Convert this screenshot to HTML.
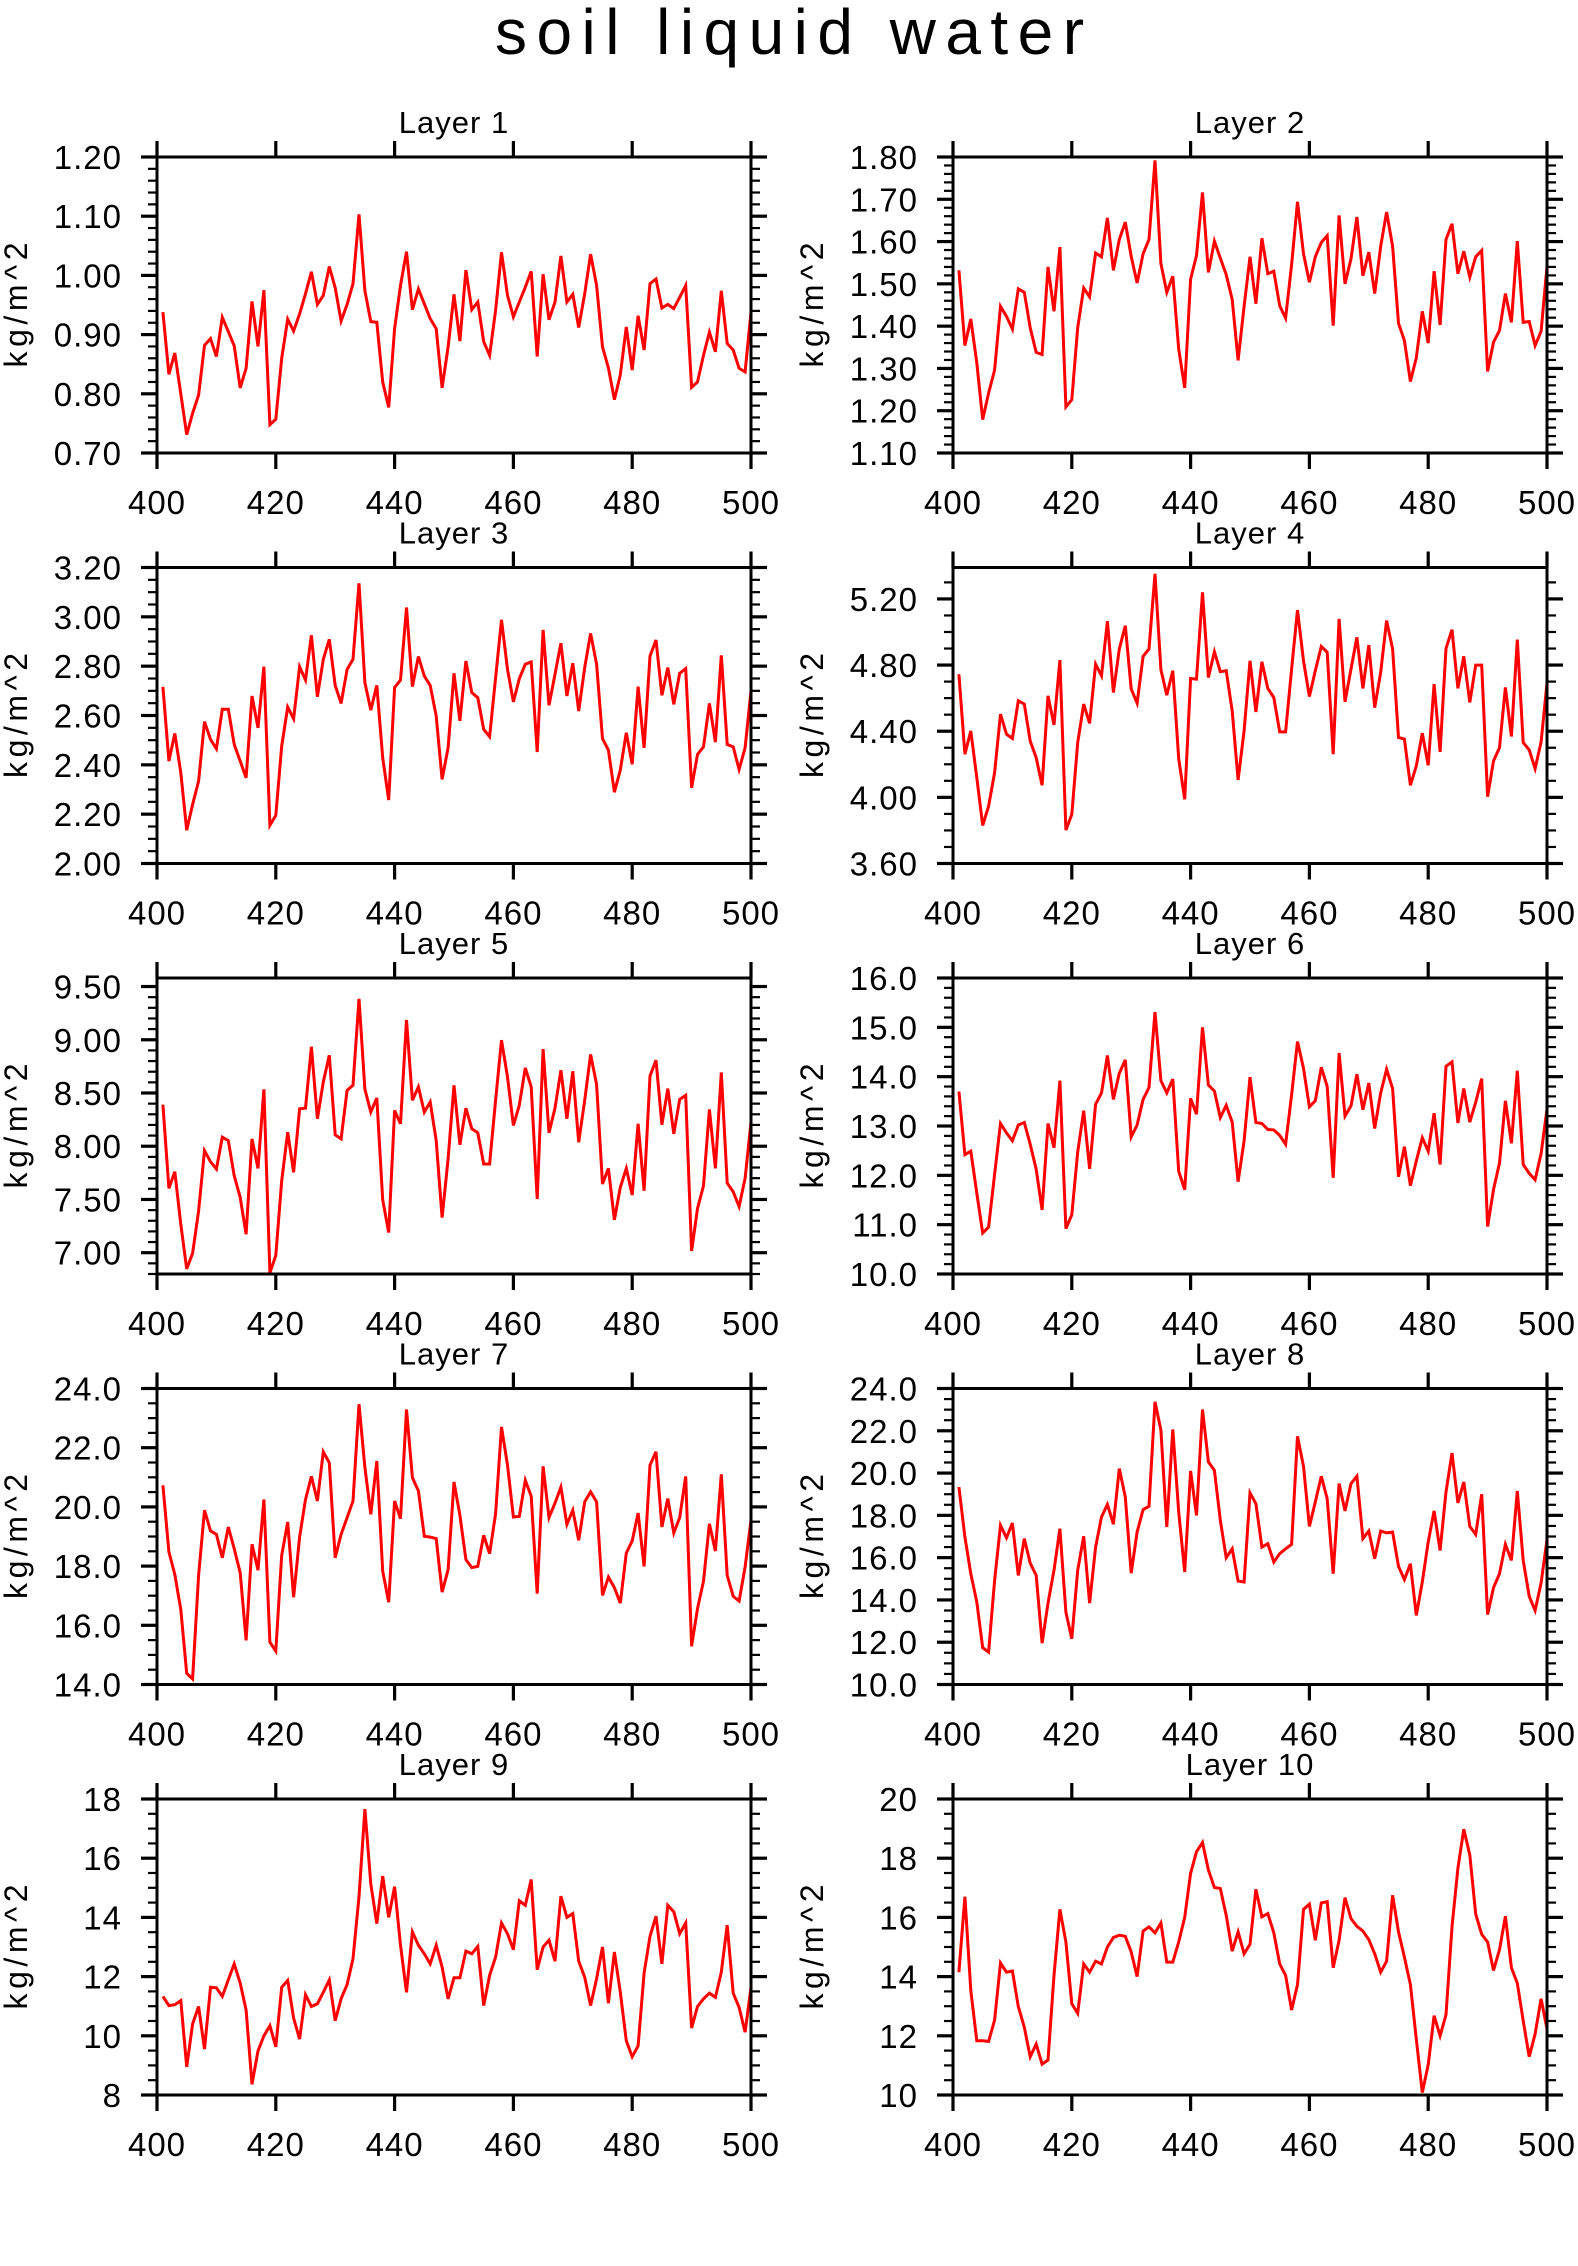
<!DOCTYPE html>
<html>
<head>
<meta charset="utf-8">
<style>
html,body{margin:0;padding:0;background:#fff;}
svg{display:block;}
text{font-family:"Liberation Sans",sans-serif;fill:#000;}
</style>
</head>
<body>
<svg id="chart" width="1578" height="2266" viewBox="0 0 1578 2266" xmlns="http://www.w3.org/2000/svg">
<rect x="0" y="0" width="1578" height="2266" fill="#fff"/>
<text x="495" y="54" font-size="64" textLength="589" lengthAdjust="spacing">soil  liquid  water</text>
<text x="757" y="2292" font-size="36" text-anchor="middle">Year 01</text>
<g id="panels"></g>
</svg>
<script>
const years = [];
for (let y = 401; y <= 500; y++) years.push(y);
const xTicks = [400, 420, 440, 460, 480, 500];
const layerTitles = ["Layer  1","Layer  2","Layer  3","Layer  4","Layer  5","Layer  6","Layer  7","Layer  8","Layer  9","Layer  10"];
const yMins = [0.70, 1.10, 2.00, 3.60, 6.80, 10, 14, 10, 8, 10];
const yMaxs = [1.20, 1.80, 3.20, 5.39, 9.58, 16, 24, 24, 18, 20];
const yMajor = [0.1, 0.1, 0.2, 0.4, 0.5, 1, 2, 2, 2, 2];
const yMinor = [0.02, 0.02, 0.05, 0.1, 0.1, 0.2, 0.5, 0.5, 0.5, 0.5];
const yDecimals = [2, 2, 2, 2, 2, 1, 1, 1, 0, 0];
const yFirstMajor = [0.70, 1.10, 2.00, 3.60, 7.00, 10, 14, 10, 8, 10];

const layer1 = [0.938,0.833,0.869,0.800,0.731,0.767,0.798,0.882,0.893,0.863,0.929,0.905,0.881,0.810,0.843,0.956,0.880,0.975,0.748,0.757,0.860,0.926,0.906,0.935,0.969,1.006,0.951,0.966,1.015,0.979,0.923,0.951,0.986,1.103,0.974,0.922,0.921,0.820,0.777,0.910,0.983,1.040,0.942,0.977,0.952,0.927,0.910,0.810,0.879,0.968,0.889,1.009,0.942,0.955,0.888,0.865,0.941,1.039,0.966,0.930,0.955,0.980,1.007,0.863,1.002,0.925,0.955,1.033,0.955,0.968,0.912,0.969,1.036,0.983,0.879,0.844,0.790,0.832,0.913,0.840,0.932,0.874,0.986,0.994,0.945,0.951,0.944,0.963,0.983,0.811,0.820,0.865,0.904,0.871,0.974,0.885,0.874,0.843,0.837,0.938];
const layer2 = [1.532,1.354,1.417,1.313,1.179,1.242,1.296,1.447,1.423,1.393,1.488,1.480,1.396,1.338,1.333,1.540,1.435,1.587,1.209,1.226,1.396,1.490,1.469,1.573,1.564,1.656,1.532,1.605,1.646,1.565,1.502,1.571,1.605,1.792,1.548,1.480,1.518,1.346,1.254,1.511,1.567,1.716,1.527,1.601,1.561,1.522,1.463,1.319,1.447,1.564,1.453,1.608,1.524,1.530,1.448,1.419,1.545,1.694,1.571,1.504,1.564,1.598,1.614,1.401,1.662,1.500,1.559,1.658,1.519,1.575,1.477,1.589,1.670,1.589,1.407,1.366,1.269,1.325,1.435,1.360,1.530,1.403,1.605,1.642,1.524,1.577,1.516,1.564,1.579,1.293,1.362,1.390,1.477,1.409,1.601,1.409,1.411,1.354,1.388,1.541];
const layer3 = [2.716,2.415,2.527,2.368,2.135,2.239,2.334,2.575,2.503,2.465,2.625,2.625,2.483,2.415,2.347,2.679,2.550,2.798,2.155,2.195,2.476,2.634,2.587,2.798,2.744,2.925,2.676,2.828,2.909,2.722,2.649,2.787,2.828,3.136,2.733,2.622,2.722,2.429,2.257,2.713,2.744,3.038,2.717,2.839,2.760,2.722,2.598,2.341,2.469,2.771,2.578,2.821,2.693,2.672,2.544,2.514,2.753,2.988,2.787,2.655,2.749,2.808,2.817,2.452,2.947,2.641,2.767,2.893,2.679,2.812,2.618,2.794,2.933,2.808,2.506,2.460,2.289,2.379,2.530,2.402,2.717,2.469,2.841,2.906,2.682,2.794,2.645,2.771,2.790,2.307,2.442,2.473,2.649,2.492,2.844,2.483,2.473,2.381,2.469,2.699];
const layer4 = [4.745,4.261,4.402,4.119,3.830,3.947,4.149,4.503,4.382,4.356,4.584,4.564,4.341,4.240,4.073,4.614,4.438,4.830,3.802,3.897,4.331,4.564,4.448,4.806,4.735,5.065,4.634,4.897,5.038,4.655,4.570,4.853,4.897,5.352,4.772,4.618,4.766,4.234,3.988,4.719,4.715,5.240,4.725,4.881,4.760,4.766,4.523,4.105,4.402,4.826,4.517,4.820,4.659,4.604,4.396,4.396,4.776,5.133,4.826,4.610,4.766,4.913,4.877,4.261,5.079,4.578,4.776,4.968,4.659,4.921,4.543,4.756,5.069,4.897,4.362,4.352,4.073,4.190,4.388,4.194,4.685,4.275,4.901,5.014,4.659,4.853,4.574,4.800,4.800,4.004,4.220,4.301,4.665,4.368,4.954,4.331,4.287,4.174,4.335,4.691];
const layer5 = [8.390,7.604,7.761,7.267,6.849,6.994,7.393,7.959,7.855,7.786,8.085,8.053,7.723,7.519,7.173,8.069,7.792,8.535,6.811,6.975,7.676,8.132,7.755,8.352,8.358,8.934,8.258,8.604,8.855,8.107,8.069,8.525,8.572,9.384,8.535,8.321,8.453,7.497,7.189,8.336,8.211,9.186,8.431,8.557,8.321,8.415,8.053,7.330,7.881,8.572,8.013,8.358,8.164,8.126,7.833,7.833,8.431,8.997,8.651,8.195,8.384,8.736,8.557,7.503,8.912,8.126,8.358,8.714,8.258,8.704,8.038,8.431,8.862,8.579,7.645,7.792,7.308,7.613,7.792,7.541,8.211,7.582,8.660,8.808,8.201,8.541,8.116,8.440,8.478,7.016,7.415,7.629,8.346,7.792,8.692,7.654,7.572,7.434,7.698,8.226];
const layer6 = [13.70,12.42,12.49,11.64,10.83,10.95,12.02,13.05,12.86,12.70,13.02,13.07,12.63,12.12,11.30,13.05,12.56,13.92,10.92,11.20,12.47,13.31,12.13,13.44,13.67,14.43,13.54,14.07,14.34,12.78,13.02,13.54,13.78,15.31,13.92,13.67,13.95,12.08,11.71,13.56,13.24,15.00,13.83,13.71,13.17,13.42,13.08,11.87,12.70,13.99,13.07,13.05,12.93,12.92,12.81,12.63,13.63,14.71,14.17,13.39,13.51,14.19,13.80,11.95,14.48,13.20,13.41,14.05,13.33,13.87,12.95,13.67,14.15,13.76,11.97,12.58,11.79,12.29,12.76,12.49,13.26,12.22,14.21,14.30,13.06,13.76,13.08,13.48,13.96,10.96,11.71,12.25,13.51,12.65,14.12,12.22,12.04,11.91,12.44,13.34];
const layer7 = [20.73,18.48,17.72,16.53,14.38,14.19,17.69,19.89,19.19,19.07,18.28,19.32,18.59,17.77,15.49,18.74,17.86,20.25,15.43,15.13,18.36,19.49,16.95,18.98,20.25,21.03,20.20,21.86,21.49,18.28,19.07,19.64,20.20,23.47,21.33,19.75,21.55,17.83,16.78,20.20,19.60,23.29,20.99,20.54,19.01,18.98,18.93,17.12,17.88,20.84,19.72,18.22,17.95,17.99,19.04,18.42,19.77,22.70,21.41,19.66,19.68,20.90,20.36,17.07,21.37,19.64,20.13,20.67,19.41,19.89,18.87,20.17,20.51,20.17,17.01,17.63,17.27,16.75,18.44,18.85,19.79,17.99,21.41,21.86,19.32,20.28,19.12,19.64,21.03,15.29,16.56,17.49,19.43,18.51,21.10,17.69,16.98,16.82,17.97,19.55];
const layer8 = [19.34,16.98,15.24,13.90,11.74,11.53,14.92,17.53,16.94,17.64,15.16,16.90,15.74,15.16,11.96,13.85,15.40,17.37,13.42,12.16,15.40,17.01,13.85,16.50,17.92,18.52,17.58,20.21,18.87,15.27,17.21,18.27,18.43,23.37,22.03,17.45,22.06,18.16,15.32,20.10,18.00,23.00,20.53,20.13,17.77,16.00,16.42,14.89,14.85,19.06,18.55,16.50,16.66,15.79,16.19,16.42,16.63,21.74,20.32,17.48,18.63,19.85,18.79,15.24,19.50,18.21,19.50,19.85,16.90,17.26,15.95,17.26,17.17,17.21,15.59,14.96,15.71,13.27,14.85,16.74,18.21,16.34,19.11,20.95,18.59,19.58,17.48,17.10,19.00,13.31,14.58,15.24,16.63,15.87,19.15,15.87,14.17,13.50,14.80,16.85];
const layer9 = [11.33,11.02,11.05,11.19,8.95,10.40,10.99,9.55,11.64,11.62,11.33,11.89,12.43,11.78,10.87,8.36,9.49,10.00,10.34,9.63,11.64,11.87,10.60,9.89,11.39,10.99,11.08,11.47,11.89,10.51,11.25,11.73,12.60,14.70,17.66,15.13,13.79,15.40,14.00,15.04,13.06,11.47,13.51,13.06,12.77,12.43,13.06,12.32,11.25,11.96,11.96,12.86,12.77,13.02,11.02,12.04,12.66,13.81,13.45,12.91,14.56,14.41,15.28,12.23,13.00,13.23,12.52,14.72,14.00,14.13,12.52,11.98,11.02,11.93,13.00,11.10,12.83,11.47,9.83,9.29,9.66,12.12,13.36,14.04,12.43,14.41,14.19,13.45,13.81,10.26,10.99,11.25,11.44,11.30,12.15,13.74,11.44,10.96,10.12,11.64];
const layer10 = [14.15,16.70,13.53,11.83,11.83,11.81,12.53,14.46,14.15,14.19,12.99,12.29,11.29,11.72,11.04,11.18,14.04,16.27,15.17,13.08,12.76,14.43,14.15,14.52,14.43,15.00,15.32,15.40,15.36,14.83,14.00,15.54,15.68,15.48,15.81,14.49,14.49,15.17,16.00,17.49,18.22,18.53,17.60,17.01,16.98,16.07,14.86,15.51,14.77,15.09,16.95,16.02,16.13,15.48,14.43,14.04,12.87,13.73,16.27,16.45,15.23,16.49,16.53,14.30,15.23,16.67,15.96,15.70,15.54,15.25,14.77,14.15,14.52,16.75,15.51,14.66,13.73,11.89,10.08,11.02,12.68,12.00,12.71,15.68,17.66,18.98,18.11,16.11,15.43,15.17,14.21,14.91,16.04,14.30,13.78,12.51,11.29,12.06,13.25,12.23];
const allLayers = [layer1, layer2, layer3, layer4, layer5, layer6, layer7, layer8, layer9, layer10];

const NS = "http://www.w3.org/2000/svg";
const root = document.getElementById("panels");
function mk(tag, attrs, parent) {
  const el = document.createElementNS(NS, tag);
  for (const k in attrs) el.setAttribute(k, attrs[k]);
  parent.appendChild(el);
  return el;
}
const colLeft = [157, 953];
const plotW = 594, plotH = 296;
for (let p = 0; p < 10; p++) {
  const col = p % 2, row = Math.floor(p / 2);
  const L = colLeft[col], T = 157 + 410.5 * row, R = L + plotW, B = T + plotH;
  const lo = yMins[p], hi = yMaxs[p];
  const xs = v => L + (v - 400) / 100 * plotW;
  const ys = v => B - (v - lo) / (hi - lo) * plotH;
  const g = mk("g", {}, root);
  
  

  const title = mk("text", {x: (L + R) / 2, y: T - 24, "font-size": 31, "text-anchor": "middle", "letter-spacing": 1}, g);
  
  
  title.textContent = layerTitles[p];

  const minorStart = Math.ceil(lo / yMinor[p] - 1e-6) * yMinor[p];
  for (let v = minorStart; v <= hi + 1e-9; v += yMinor[p]) {
    const yy = ys(v);
    const t1 = mk("line", {x1: L - 9, x2: L, y1: yy, y2: yy, stroke: "#000", "stroke-width": 2.2}, g);
    
    
    const t2 = mk("line", {x1: R, x2: R + 9, y1: yy, y2: yy, stroke: "#000", "stroke-width": 2.2}, g);
    
    
  }
  for (let v = yFirstMajor[p]; v <= hi + 1e-9; v += yMajor[p]) {
    const yy = ys(v);
    const t1 = mk("line", {x1: L - 16, x2: L, y1: yy, y2: yy, stroke: "#000", "stroke-width": 3.2}, g);
    
    
    const t2 = mk("line", {x1: R, x2: R + 16, y1: yy, y2: yy, stroke: "#000", "stroke-width": 3.2}, g);
    
    
    const lab = mk("text", {x: L - 35, y: yy + 12, "font-size": 33, "text-anchor": "end", "letter-spacing": 1}, g);
    
    
    lab.textContent = v.toFixed(yDecimals[p]);
  }
  xTicks.forEach(v => {
    const xx = xs(v);
    const a = mk("line", {x1: xx, x2: xx, y1: T - 16, y2: T, stroke: "#000", "stroke-width": 3.2}, g);
    
    
    const b = mk("line", {x1: xx, x2: xx, y1: B, y2: B + 16, stroke: "#000", "stroke-width": 3.2}, g);
    
    
    const lab = mk("text", {x: xx, y: B + 61, "font-size": 33, "text-anchor": "middle", "letter-spacing": 1}, g);
    
    
    lab.textContent = v;
  });
  const cy = (T + B) / 2, tx = L - 130;
  const yt = mk("text", {x: tx, y: cy, "font-size": 32, "text-anchor": "middle", transform: "rotate(-90 " + tx + " " + cy + ")", textLength: 125, lengthAdjust: "spacing"}, g);
  
  
  yt.textContent = "kg/m^2";
  const data = allLayers[p];
  const pts = data.map((v, i) => xs(years[i]).toFixed(1) + "," + ys(v).toFixed(1)).join(" ");
  const line = mk("polyline", {points: pts, fill: "none", stroke: "#ff0000", "stroke-width": 3, "stroke-linejoin": "miter"}, g);
  
  
  const fr = mk("rect", {x: L, y: T, width: plotW, height: plotH, fill: "none", stroke: "#000", "stroke-width": 3}, g);
  
  
}
</script>
</body>
</html>
